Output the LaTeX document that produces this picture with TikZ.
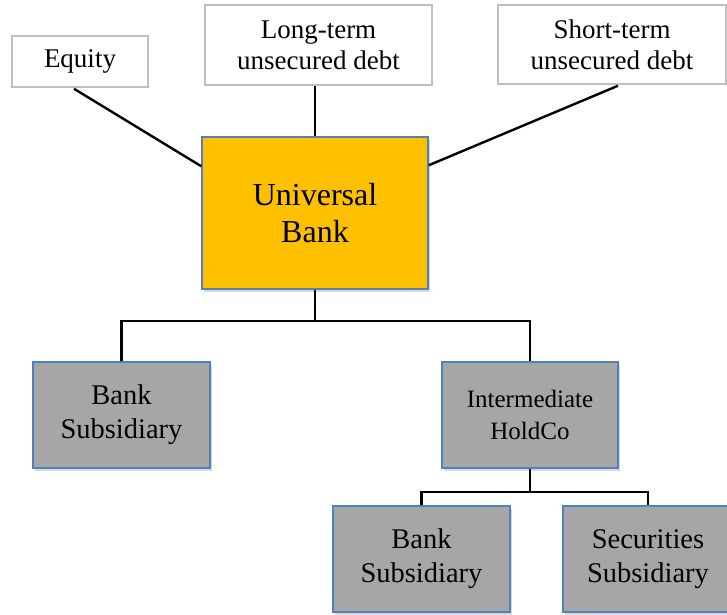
\documentclass[tikz,border=0pt]{standalone}
\usepackage{fontspec}
\setmainfont{Liberation Serif}
\usetikzlibrary{calc,shadows}
\usepackage{xcolor}
\definecolor{colorffc000}{HTML}{FFC000}
\definecolor{colora6a6a6}{HTML}{A6A6A6}
\definecolor{color4f81bd}{HTML}{4F81BD}
\definecolor{colorbfbfbf}{HTML}{BFBFBF}

\begin{document}
\begin{tikzpicture}
    [x=1pt, y=-1pt,
     liab/.style={draw=colorbfbfbf, line width=1.5pt, fill=white, align=center,
                  inner sep=0pt, font=\fontsize{27}{31}\selectfont},
     entity/.style={draw=color4f81bd, line width=1.5pt, align=center, inner sep=0pt,
                    drop shadow={shadow xshift=2pt, shadow yshift=-3pt, opacity=.3}},
     link/.style={draw=black, line width=2.4pt},
    ]
\useasboundingbox (0,0) rectangle (727,614);

% funding sources
\node[liab, minimum height=51, minimum width=136] (node_equity) at (80,61.5) {Equity};
\node[liab, minimum height=80, minimum width=227] (node_longterm) at (318.5,45) {Long-term\\unsecured debt};
\node[liab, minimum height=79, minimum width=228] (node_shortterm) at (612,44.5) {Short-term\\unsecured debt};

% group entities
\node[entity, fill=colorffc000, minimum height=152, minimum width=226,
      font=\fontsize{32}{37}\selectfont] (node_bank) at (315,213) {Universal\\Bank};
\node[entity, fill=colora6a6a6, minimum height=106, minimum width=177,
      font=\fontsize{28.5}{34}\selectfont] (node_banksub) at (121.5,415) {Bank\\Subsidiary};
\node[entity, fill=colora6a6a6, minimum height=106, minimum width=176,
      font=\fontsize{25}{32}\selectfont] (node_holdco) at (530,415) {Intermediate\\HoldCo};
\node[entity, fill=colora6a6a6, minimum height=106, minimum width=177,
      font=\fontsize{28.5}{34}\selectfont] (node_banksubb) at (421.5,559) {Bank\\Subsidiary};
\node[entity, fill=colora6a6a6, minimum height=106, minimum width=170,
      font=\fontsize{28.5}{34}\selectfont] (node_secsub) at (648,559) {Securities\\Subsidiary};

% connectors
\draw[link] ($(node_equity.south)+(-6,1)$) -- ($(node_bank.north west)+(0,30)$);
\draw[link] (node_bank.north) -- (node_bank.north |- node_longterm.south);
\draw[link] ($(node_shortterm.south)+(6,1)$) -- ($(node_bank.north east)+(0,29)$);

\draw[link] (node_bank.south) -- ++(0,31) coordinate (bank_split);
\draw[link] (node_banksub.north) |- (bank_split) -| (node_holdco.north);

\draw[link] (node_holdco.south) -- ++(0,23) coordinate (holdco_split);
\draw[link] (node_banksubb.north) |- (holdco_split) -| (node_secsub.north);

\end{tikzpicture}
\end{document}
